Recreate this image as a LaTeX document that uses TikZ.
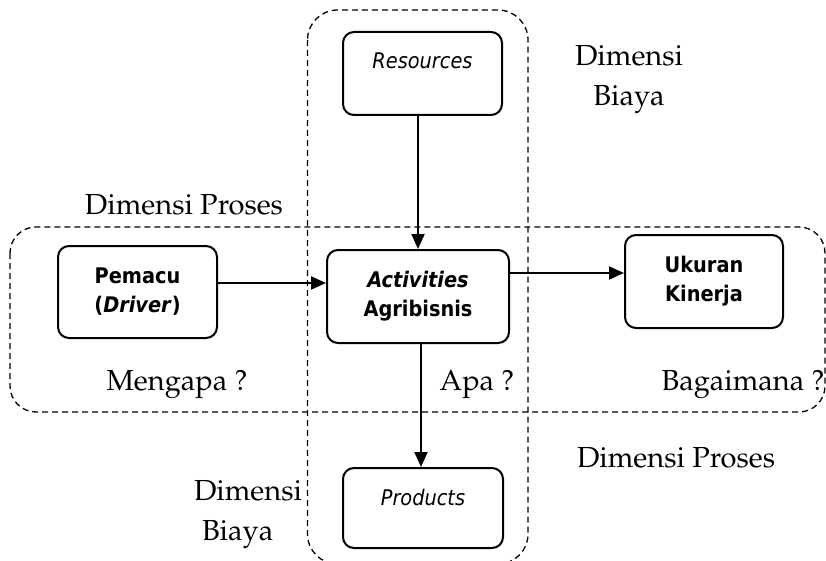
\documentclass[tikz,border=0pt]{standalone}
\usepackage{fontspec}
\usepackage[T1,TU]{fontenc}
\usepackage{tikz}
\usetikzlibrary{arrows.meta, positioning, calc}
\newfontfamily\boxfont{DejaVu Sans Condensed}
\newcommand\palfont{\fontencoding{T1}\fontfamily{ppl}\selectfont}

\begin{document}
\begin{tikzpicture}[
  x=1pt, y=-1pt,
  arr/.style={-{Triangle[length=15pt,width=13pt]}, line width=2pt},
  zone/.style={dashed, dash pattern=on 6pt off 4pt, line width=1.3pt},
  blk/.style={draw, line width=2pt, rounded corners=11pt, inner sep=0pt,
              align=center, font=\boxfont\fontsize{21.5}{29}\selectfont},
  lbl/.style={font=\palfont\fontsize{29}{40}\selectfont, align=center,
              inner sep=0pt}
]
  \useasboundingbox (0,0) rectangle (826,561);
  \clip (0,0) rectangle (826,561);
  \fill[white] (0,0) rectangle (826,561);

  %--- dimension zones ---
  \draw[zone, rounded corners=30pt] (307.5,10) rectangle (528,564);
  \draw[zone, rounded corners=26pt] (10,227) rectangle (825,412);

  %--- blocks ---
  \node[blk, minimum width=159pt, text height=37pt, text depth=46pt]
    (res) at (422.5,73.5) {\textit{Resources}};
  \node[blk, minimum width=159pt, minimum height=92pt]
    (drv) at (137.5,292) {\textbf{Pemacu}\\\textbf{(\textit{Driver})}};
  \node[blk, minimum width=182pt, minimum height=93pt]
    (act) at (418,296.5) {\textbf{\textit{Activities}}\\\textbf{Agribisnis}};
  \node[blk, minimum width=158pt, minimum height=93pt]
    (kin) at (704,281.5) {\textbf{Ukuran}\\\textbf{Kinerja}};
  \node[blk, minimum width=160pt, text height=37pt, text depth=43pt]
    (prod) at (423,508) {\textit{Products}};

  %--- arrows ---
  \draw[arr] (act.north |- res.south) -- (act.north);
  \draw[arr] ([yshift=9pt]drv.east) -- ([yshift=13.5pt]act.west);
  \draw[arr] ([yshift=23.5pt]act.east) -- ([yshift=8.5pt]kin.west);
  \draw[arr] ([xshift=3pt]act.south) -- ([xshift=-2pt]prod.north);

  %--- labels ---
  \node[lbl] (dbtop) at (629,80) {Dimensi\\Biaya};
  \node[lbl] (dptop) at (184,205) {Dimensi Proses};
  \node[lbl] (why) at (177,385) {Mengapa ?};
  \node[lbl] (what) at (477,385) {Apa ?};
  \node[lbl] (how) at (743,385) {Bagaimana ?};
  \node[lbl] (dpbot) at (676,458) {Dimensi Proses};
  \node[lbl, align=left] (dbbot) at (248,515) {Dimensi\\\hspace*{8pt}Biaya};

\end{tikzpicture}
\end{document}
